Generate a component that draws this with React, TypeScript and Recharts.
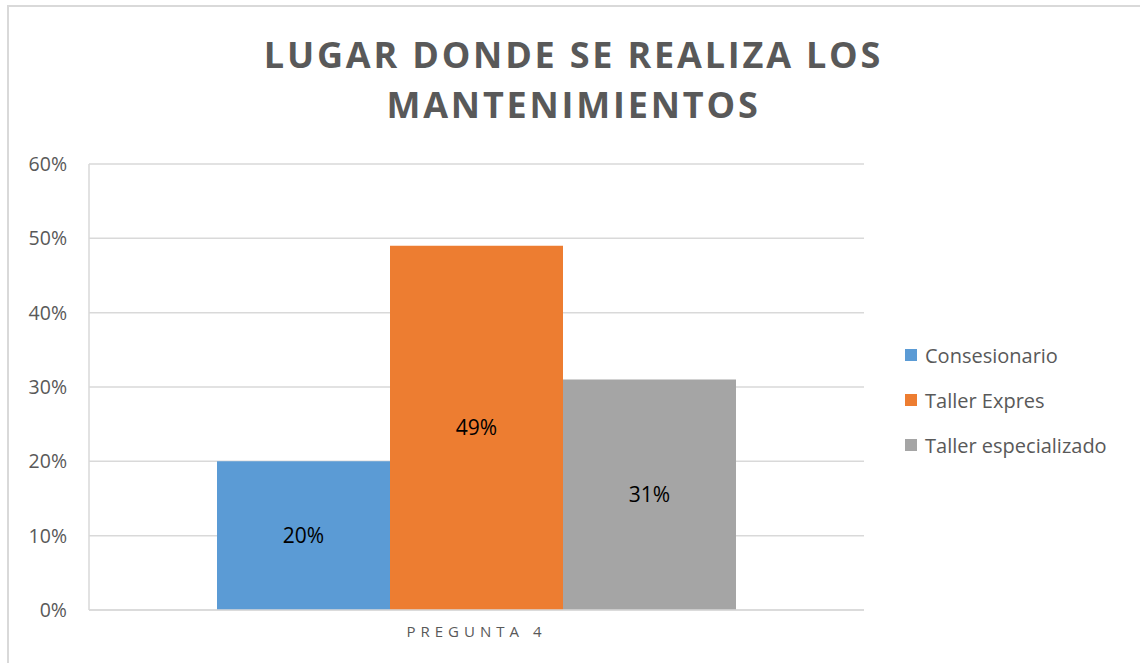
import { BarChart, Bar, XAxis, YAxis, CartesianGrid, LabelList } from 'recharts';

const categories = ['PREGUNTA 4'];
const seriesNames = ['Consesionario', 'Taller Expres', 'Taller especializado'];
const seriesKeys = ['consesionario', 'tallerExpres', 'tallerEspecializado'];
const consesionario = [0.2];
const tallerExpres = [0.49];
const tallerEspecializado = [0.31];
const yTicks = [0, 0.1, 0.2, 0.3, 0.4, 0.5, 0.6];
const colors = ['#5b9bd5', '#ed7d31', '#a5a5a5'];

const data = categories.map((c, i) => ({
  name: c,
  consesionario: consesionario[i],
  tallerExpres: tallerExpres[i],
  tallerEspecializado: tallerEspecializado[i],
}));

const pct = (v: number) => `${Math.round(v * 100)}%`;
const font = '"Open Sans", "Noto Sans", sans-serif';

export default function App() {
  return (
    <div style={{ position: 'absolute', left: 0, top: 0, width: 1140, height: 663, background: '#fff', overflow: 'hidden', fontFamily: font }}>
      <div style={{ position: 'absolute', left: 7, top: 5, width: 1140, height: 670, border: '2px solid #d9d9d9', boxSizing: 'border-box' }} />
      <div style={{ position: 'absolute', left: 7, top: 30, width: 1133, textAlign: 'center', fontSize: 36, fontWeight: 700, letterSpacing: 2.8, color: '#595959', lineHeight: '50px' }}>
        LUGAR DONDE SE REALIZA LOS<br />MANTENIMIENTOS
      </div>
      <div style={{ position: 'absolute', left: 0, top: 0 }}>
        <BarChart width={1140} height={663} data={data} margin={{ top: 164, right: 276, left: 9, bottom: 23 }} barCategoryGap={128} barGap={0}>
          <CartesianGrid vertical={false} stroke="#d9d9d9" strokeWidth={1.5} />
          <XAxis dataKey="name" height={30} axisLine={{ stroke: '#d9d9d9', strokeWidth: 1.5 }} tickLine={false}
            tick={{ fill: '#595959', fontSize: 15, letterSpacing: 5, fontFamily: font }} dy={8} />
          <YAxis domain={[0, 0.6]} ticks={yTicks} tickFormatter={pct} width={80} axisLine={{ stroke: '#d9d9d9', strokeWidth: 1.5 }} tickLine={false}
            tick={{ fill: '#595959', fontSize: 19.5, fontFamily: font }} dx={-14} />
          {seriesKeys.map((k, i) => (
            <Bar key={k} dataKey={k} name={seriesNames[i]} fill={colors[i]} isAnimationActive={false}>
              <LabelList dataKey={k} position="center" formatter={(v: any) => pct(Number(v))} fill="#000" fontSize={21} fontFamily={font} />
            </Bar>
          ))}
        </BarChart>
      </div>
      {seriesNames.map((n, i) => (
        <div key={n} style={{ position: 'absolute', left: 905, top: 341 + i * 45, height: 28, display: 'flex', alignItems: 'center', fontSize: 20, color: '#595959' }}>
          <span style={{ display: 'inline-block', width: 12, height: 12, background: colors[i], marginRight: 8 }} />
          {n}
        </div>
      ))}
    </div>
  );
}
